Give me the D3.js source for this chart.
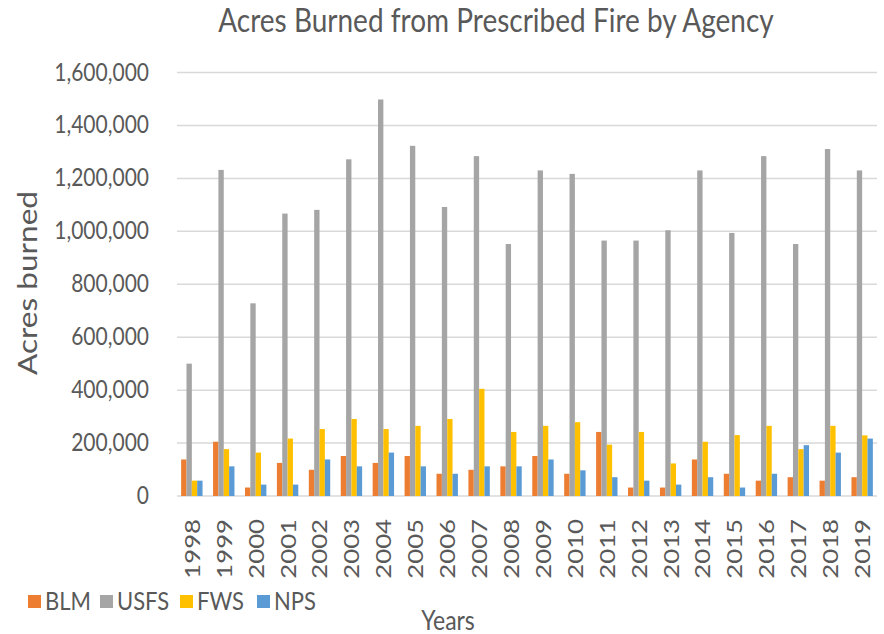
<!DOCTYPE html>
<html>
<head>
<meta charset="utf-8">
<script src="https://cdn.jsdelivr.net/npm/d3@7"></script>
<style>
  body { margin: 0; background: #fff; }
  text { font-family: Lato, "Open Sans", sans-serif; fill: #595959; }
</style>
</head>
<body>
<div id="chart"></div>
<script>
var years = ["1998", "1999", "2000", "2001", "2002", "2003", "2004", "2005", "2006", "2007", "2008",
             "2009", "2010", "2011", "2012", "2013", "2014", "2015", "2016", "2017", "2018", "2019"];
var agencies = ["BLM", "USFS", "FWS", "NPS"];
var blm  = [138000, 205000, 32000, 125000, 99000, 151000, 125000, 151000, 84000, 99000, 112000,
            151000, 84000, 242000, 32000, 32000, 138000, 84000, 58000, 71000, 58000, 71000];
var usfs = [500000, 1232000, 728000, 1067000, 1081000, 1272000, 1498000, 1323000, 1092000, 1284000, 952000,
            1230000, 1217000, 965000, 965000, 1004000, 1230000, 994000, 1284000, 952000, 1311000, 1230000];
var fws  = [58000, 177000, 164000, 217000, 253000, 291000, 253000, 265000, 291000, 405000, 242000,
            265000, 279000, 194000, 242000, 123000, 205000, 230000, 265000, 177000, 265000, 229000];
var nps  = [58000, 112000, 43000, 43000, 138000, 112000, 164000, 112000, 84000, 112000, 112000,
            138000, 97000, 71000, 58000, 43000, 71000, 32000, 84000, 192000, 164000, 217000];
var yTicks = [0, 200000, 400000, 600000, 800000, 1000000, 1200000, 1400000, 1600000];
var colors = ["#ED7D31", "#A5A5A5", "#FFC000", "#5B9BD5"];

var series = [blm, usfs, fws, nps];
var k = 1.17; // the picture is a bit taller than wide, stretch text to match

var svg = d3.select("#chart").append("svg")
    .attr("width", 884)
    .attr("height", 634);

var x0 = d3.scaleBand()
    .domain(years)
    .range([177, 877])
    .paddingInner(0.33)
    .paddingOuter(0.13);

var x1 = d3.scaleBand()
    .domain(agencies)
    .range([0, x0.bandwidth()]);

var y = d3.scaleLinear()
    .domain([0, 1600000])
    .range([496, 72.5]);

var color = d3.scaleOrdinal().domain(agencies).range(colors);

// gridlines
svg.append("g").selectAll("line")
    .data(yTicks)
    .enter().append("line")
    .attr("x1", 177).attr("x2", 877)
    .attr("y1", function(d) { return y(d); })
    .attr("y2", function(d) { return y(d); })
    .style("stroke", "#d9d9d9")
    .style("stroke-width", "1.5px");

// y tick labels
var fmt = d3.format(",");
svg.append("g").selectAll("text")
    .data(yTicks)
    .enter().append("text")
    .attr("transform", function(d) { return "translate(149," + (y(d) + 8) + ") scale(1," + k + ")"; })
    .attr("text-anchor", "end")
    .style("font-size", "21px")
    .text(function(d) { return fmt(d); });

// bars
var groups = svg.append("g").selectAll("g")
    .data(years)
    .enter().append("g")
    .attr("transform", function(d) { return "translate(" + x0(d) + ",0)"; });

groups.selectAll("rect")
    .data(function(d, i) { return agencies.map(function(a, j) { return {agency: a, value: series[j][i]}; }); })
    .enter().append("rect")
    .attr("x", function(d) { return x1(d.agency); })
    .attr("width", x1.bandwidth())
    .attr("y", function(d) { return y(d.value); })
    .attr("height", function(d) { return y(0) - y(d.value); })
    .style("fill", function(d) { return color(d.agency); });

// x tick labels, rotated
svg.append("g").selectAll("text")
    .data(years)
    .enter().append("text")
    .attr("transform", function(d) {
        return "translate(" + (x0(d) + x0.bandwidth() / 2) + ",519) rotate(-90) scale(" + k + ",1)";
    })
    .attr("text-anchor", "end")
    .attr("dy", "0.36em")
    .style("font-size", "22px")
    .text(function(d) { return d; });

// title
svg.append("text")
    .attr("transform", "translate(496,32) scale(1," + k + ")")
    .attr("text-anchor", "middle")
    .style("font-size", "28px")
    .text("Acres Burned from Prescribed Fire by Agency");

// axis titles
svg.append("text")
    .attr("transform", "translate(37,283) rotate(-90) scale(" + k + ",1)")
    .attr("text-anchor", "middle")
    .style("font-size", "27px")
    .text("Acres burned");

svg.append("text")
    .attr("transform", "translate(448,630) scale(1," + k + ")")
    .attr("text-anchor", "middle")
    .style("font-size", "23px")
    .text("Years");

// legend
var legendX = [28, 100, 180, 257];
var legend = svg.append("g").selectAll("g")
    .data(agencies)
    .enter().append("g")
    .attr("transform", function(d, i) { return "translate(" + legendX[i] + ",595)"; });

legend.append("rect")
    .attr("width", 13).attr("height", 13)
    .style("fill", function(d) { return color(d); });

legend.append("text")
    .attr("transform", "translate(17,15) scale(1," + k + ")")
    .style("font-size", "22px")
    .text(function(d) { return d; });
</script>
</body>
</html>
